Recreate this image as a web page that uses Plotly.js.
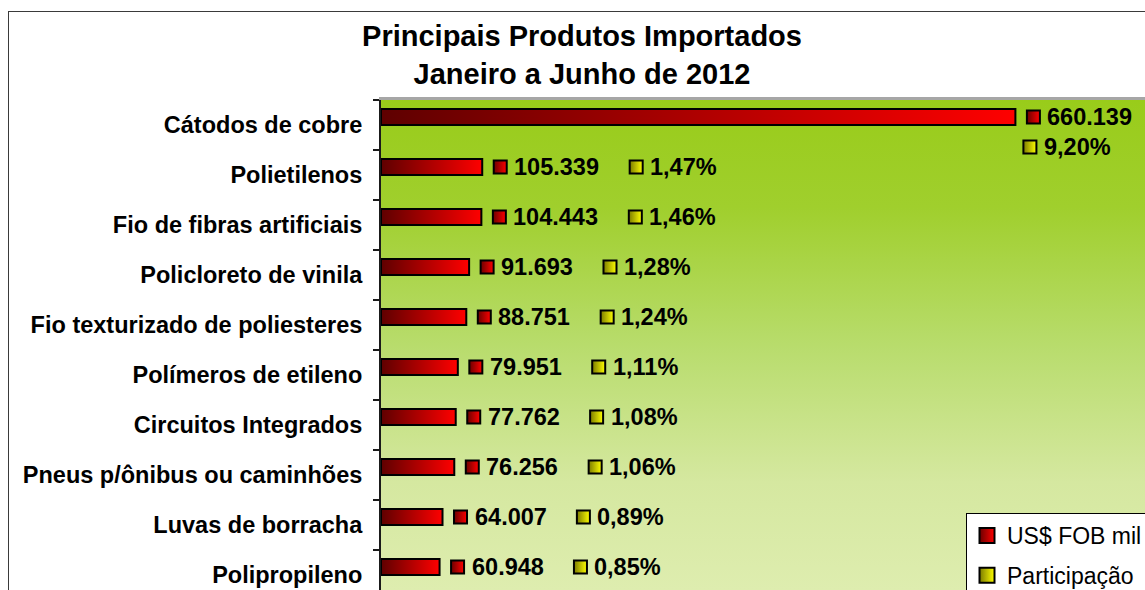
<!DOCTYPE html>
<html><head><meta charset="utf-8">
<script src="https://cdn.plot.ly/plotly-3.0.1.min.js"></script>
<style>
html,body{margin:0;padding:0;background:#fff;overflow:hidden}
#wrap{position:relative;width:1145px;height:590px;overflow:hidden}
#chart{width:1145px;height:590px}
#frame{position:absolute;left:8px;top:11px;width:1300px;height:800px;border:1.5px solid #3a3a3a;pointer-events:none}
</style></head><body>
<div id="wrap"><div id="chart"></div><div id="frame"></div></div>
<script>
// ---- data ----
const categories = ["Cátodos de cobre","Polietilenos","Fio de fibras artificiais","Policloreto de vinila","Fio texturizado de poliesteres","Polímeros de etileno","Circuitos Integrados","Pneus p/ônibus ou caminhões","Luvas de borracha","Polipropileno"];
const fobValues = [660139,105339,104443,91693,88751,79951,77762,76256,64007,60948];
const shareValues = [0.0920,0.0147,0.0146,0.0128,0.0124,0.0111,0.0108,0.0106,0.0089,0.0085];
const seriesNames = ["US$ FOB mil","Participação"];
const titleLines = ["Principais Produtos Importados","Janeiro a Junho de 2012"];

// ---- layout constants ----
const W = 1145, H = 590, L = 381, T = 100;
const xMax = 795000;
const plotW = W - L;
const ppu = plotW / xMax;            // pixels per data unit
const FONT = "Liberation Sans, Arial, sans-serif";
const idx = categories.map((c, i) => i);
const barShift = 0.16;               // half of a grouped bar thickness

function fmtFob(v) { return String(Math.round(v)).replace(/\B(?=(\d{3})+(?!\d))/g, "."); }
function fmtPct(v) { return (v * 100).toFixed(2).replace(".", ",") + "%"; }

const cv = document.createElement("canvas").getContext("2d");
cv.font = "bold 23.5px 'Liberation Sans'";
function textW(s) { return cv.measureText(s).width; }

// label positions (in data units, derived from pixel offsets)
const redX = [], redY = [], yelX = [], yelY = [];
fobValues.forEach((v, i) => {
  const endPx = v * ppu;
  const rPx = endPx + 18;
  redX.push(rPx / ppu); redY.push(i - barShift);
  let yPx = rPx + textW(fmtFob(v)) + 51;
  if (yPx > plotW - 90) { yelX.push((rPx - 3.5) / ppu); yelY.push(i - barShift + 0.6); }
  else { yelX.push(yPx / ppu); yelY.push(i - barShift); }
});

const redMarker = {symbol: "square", size: 13, color: "#6a0000", gradient: {type: "horizontal", color: "#ff0000"}, line: {color: "#000", width: 2}};
const yelMarker = {symbol: "square", size: 13, color: "#7a7a00", gradient: {type: "horizontal", color: "#ffff00"}, line: {color: "#000", width: 2}};
const redKey = Object.assign({}, redMarker, {size: 15});
const yelKey = Object.assign({}, yelMarker, {size: 15});

const traces = [
  {type: "bar", orientation: "h", name: seriesNames[0], x: fobValues, y: idx, showlegend: false, hoverinfo: "skip",
   marker: {color: "#c00000", line: {color: "#000", width: 2}}},
  {type: "bar", orientation: "h", name: seriesNames[1], x: shareValues, y: idx, showlegend: false, hoverinfo: "skip",
   marker: {color: "#ffff00", line: {width: 0}}},
  {type: "scatter", mode: "markers", x: redX, y: redY, marker: redMarker, showlegend: false, hoverinfo: "skip", cliponaxis: false},
  {type: "scatter", mode: "markers", x: yelX, y: yelY, marker: yelMarker, showlegend: false, hoverinfo: "skip", cliponaxis: false},
  {type: "scatter", mode: "markers", name: seriesNames[0], x: [null], y: [null], marker: redKey, legendgroup: "a"},
  {type: "scatter", mode: "markers", name: seriesNames[1], x: [null], y: [null], marker: yelKey, legendgroup: "b"}
];

const annotations = [];
fobValues.forEach((v, i) => {
  annotations.push({x: redX[i], y: redY[i], xref: "x", yref: "y", text: fmtFob(v), showarrow: false,
    xanchor: "left", yanchor: "middle", xshift: 12, font: {family: FONT, size: 23.5, color: "#000", weight: "bold"}});
  annotations.push({x: yelX[i], y: yelY[i], xref: "x", yref: "y", text: fmtPct(shareValues[i]), showarrow: false,
    xanchor: "left", yanchor: "middle", xshift: 12, font: {family: FONT, size: 23.5, color: "#000", weight: "bold"}});
});

const bgSvg = '<svg xmlns="http://www.w3.org/2000/svg" width="100" height="100" preserveAspectRatio="none">' +
  '<defs><linearGradient id="g" x1="0" y1="0" x2="0" y2="1">' +
  '<stop offset="0" stop-color="rgb(153,204,26)"/><stop offset="0.22" stop-color="rgb(160,207,45)"/>' +
  '<stop offset="0.5" stop-color="rgb(184,220,108)"/><stop offset="0.78" stop-color="rgb(213,232,160)"/>' +
  '<stop offset="1" stop-color="rgb(222,237,175)"/></linearGradient></defs>' +
  '<rect width="100" height="100" fill="url(#g)"/></svg>';

const layout = {
  width: W, height: H,
  margin: {l: L, r: 0, t: T, b: 0, pad: 0, autoexpand: false},
  paper_bgcolor: "#fff", plot_bgcolor: "rgba(0,0,0,0)",
  font: {family: FONT, color: "#000"},
  title: {text: titleLines.join("<br>"), font: {family: FONT, size: 29, color: "#000", weight: "bold"},
    x: 582 / W, xref: "container", xanchor: "center", y: 1 - 46 / H, yref: "container", yanchor: "top"},
  barmode: "group", bargap: 0.36, bargroupgap: 0,
  showlegend: true,
  legend: {x: (966 - L) / plotW, y: (H - 513) / (H - T), xanchor: "left", yanchor: "top",
    bgcolor: "#fff", bordercolor: "#000", borderwidth: 1,
    font: {family: FONT, size: 23, color: "#000"}, traceorder: "grouped", tracegroupgap: 7},
  xaxis: {range: [0, xMax], side: "top", showline: true, linecolor: "#a6a6a6", linewidth: 3,
    showticklabels: false, ticks: "", showgrid: false, zeroline: false, fixedrange: true},
  yaxis: {range: [9.3, -0.5], tickmode: "array", tickvals: idx, ticktext: categories, ticks: "",
    tickfont: {family: FONT, size: 23.5, color: "#000", weight: "bold"}, ticklabelstandoff: 12,
    showline: true, linecolor: "#1a1a1a", linewidth: 2, showgrid: false, zeroline: false, fixedrange: true,
    minor: {tickmode: "linear", tick0: -0.5, dtick: 1, ticks: "outside", ticklen: 6, tickwidth: 1.5, tickcolor: "#1a1a1a", showgrid: false}},
  images: [{source: "data:image/svg+xml;charset=utf-8," + encodeURIComponent(bgSvg), xref: "paper", yref: "paper",
    x: 0, y: 1, sizex: 1, sizey: 1, sizing: "stretch", xanchor: "left", yanchor: "top", layer: "below"}],
  annotations: annotations
};

Plotly.newPlot("chart", traces, layout, {staticPlot: true, displayModeBar: false}).then(gd => {
  const svg = gd.querySelector("svg.main-svg");
  const ns = "http://www.w3.org/2000/svg";
  let defs = svg.querySelector("defs");
  if (!defs) { defs = document.createElementNS(ns, "defs"); svg.insertBefore(defs, svg.firstChild); }
  const lg = document.createElementNS(ns, "linearGradient");
  lg.setAttribute("id", "barRedGrad");
  lg.setAttribute("x1", "0"); lg.setAttribute("y1", "0"); lg.setAttribute("x2", "1"); lg.setAttribute("y2", "0");
  [["0", "#5e0000"], ["1", "#ff0000"]].forEach(([o, c]) => {
    const s = document.createElementNS(ns, "stop"); s.setAttribute("offset", o); s.setAttribute("stop-color", c); lg.appendChild(s);
  });
  defs.appendChild(lg);
  const barTrace = gd.querySelectorAll(".barlayer .trace")[0];
  if (barTrace) barTrace.querySelectorAll("path").forEach(p => { p.style.fill = "url(#barRedGrad)"; });
});
</script>
</body></html>
